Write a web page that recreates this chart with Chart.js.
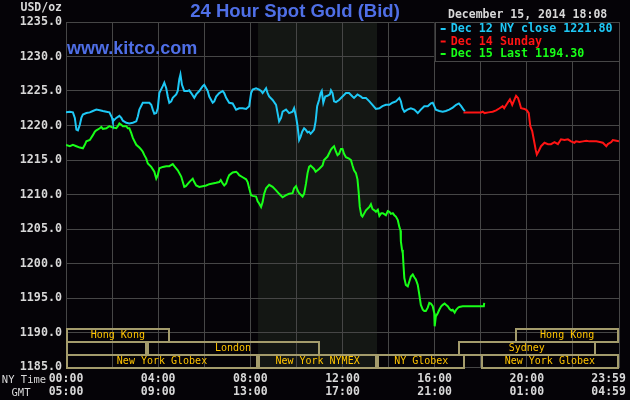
<!DOCTYPE html>
<html>
<head>
<meta charset="utf-8">
<script src="https://cdn.jsdelivr.net/npm/chart.js@4/dist/chart.umd.min.js"></script>
<style>
  html, body { margin: 0; padding: 0; background: #050307; }
  canvas { display: block; }
</style>
</head>
<body>
<canvas id="gold" width="630" height="400"></canvas>
<script>
// minutes after midnight NY time -> bid price
const cyanT = [0,10,18,23,27,31,36,40,44,53,62,70,79,88,96,105,113,120,122,131,139,144,148,157,165,174,183,187,191,200,209,217,222,226,230,235,239,243,252,256,261,265,269,274,278,287,291,295,298,302,308,317,321,326,334,339,347,356,360,365,369,373,382,386,391,399,408,412,417,425,434,443,451,460,469,477,482,486,495,503,508,512,516,521,525,529,538,547,551,555,560,564,573,581,590,594,599,603,607,611,615,620,624,629,633,637,642,646,650,654,659,663,666,670,675,681,687,690,694,698,703,711,720,729,737,746,750,759,768,772,781,790,798,807,816,824,833,842,850,859,868,872,876,881,889,898,907,916,924,933,942,950,955,959,963,972,981,989,998,1007,1016,1023,1029,1035,1039];
const cyanV = [1221.9,1222.0,1221.9,1221.1,1219.4,1219.3,1220.1,1221.1,1221.6,1221.8,1221.9,1222.1,1222.3,1222.2,1222.1,1222.0,1221.9,1221.1,1220.6,1221.1,1221.4,1221.1,1220.7,1220.4,1220.3,1220.4,1220.6,1221.3,1222.3,1223.3,1223.3,1223.3,1223.0,1222.3,1221.7,1221.8,1222.5,1224.7,1225.7,1226.2,1225.4,1224.2,1223.3,1223.5,1224.0,1224.5,1225.0,1226.7,1227.4,1225.9,1225.0,1225.0,1225.1,1224.7,1224.0,1224.5,1225.0,1225.7,1225.9,1225.4,1225.0,1224.2,1223.3,1223.5,1224.2,1224.7,1225.0,1224.7,1224.0,1223.3,1223.2,1222.3,1222.5,1222.5,1222.4,1222.8,1224.7,1225.2,1225.4,1225.2,1225.0,1224.7,1225.0,1225.4,1224.7,1224.2,1223.7,1223.0,1221.8,1220.6,1221.1,1222.0,1222.3,1221.8,1222.0,1222.5,1221.3,1219.9,1217.9,1218.4,1219.1,1219.6,1219.4,1219.0,1219.1,1218.8,1219.1,1219.4,1220.6,1222.8,1223.7,1224.7,1225.0,1223.3,1224.2,1224.3,1224.5,1225.1,1224.7,1223.5,1223.4,1223.7,1224.2,1224.7,1224.7,1224.2,1224.0,1224.5,1224.2,1224.0,1224.0,1223.5,1223.0,1222.4,1222.5,1222.8,1223.0,1223.0,1223.3,1223.5,1224.0,1223.5,1222.5,1222.0,1222.3,1222.5,1222.3,1221.8,1222.3,1222.8,1222.8,1223.2,1223.3,1222.8,1222.3,1222.1,1222.0,1222.1,1222.3,1222.6,1223.0,1223.2,1222.8,1222.3,1222.1];

const redT = [1035,1081,1085,1090,1100,1111,1120,1129,1137,1141,1150,1156,1162,1168,1172,1177,1181,1185,1194,1200,1205,1209,1214,1218,1223,1226,1231,1237,1246,1255,1263,1272,1281,1289,1298,1307,1315,1324,1328,1337,1346,1355,1363,1372,1381,1390,1398,1407,1411,1420,1424,1433,1440];
const redV = [1221.9,1221.9,1222.0,1221.8,1221.9,1222.0,1222.2,1222.5,1222.8,1222.5,1223.3,1223.8,1223.0,1223.8,1224.3,1224.0,1223.3,1222.5,1222.4,1222.2,1221.8,1219.9,1219.2,1218.0,1216.5,1215.8,1216.3,1217.0,1217.5,1217.3,1217.3,1217.6,1217.3,1218.0,1217.9,1218.0,1217.7,1217.5,1217.7,1217.6,1217.7,1217.8,1217.7,1217.7,1217.7,1217.6,1217.5,1217.0,1217.3,1217.6,1217.9,1217.8,1217.7];

const greenT = [0,10,18,27,36,44,49,53,62,70,75,79,88,92,96,105,113,122,131,135,139,144,148,157,161,165,170,174,183,191,196,200,204,209,213,222,230,235,239,243,252,261,269,278,282,291,300,308,312,321,330,334,339,347,356,365,373,382,391,399,403,408,412,417,421,425,434,443,447,451,460,469,473,477,482,486,495,499,503,508,512,516,521,529,538,547,555,564,573,581,590,594,599,603,607,616,620,625,629,633,637,646,650,659,668,672,681,690,694,698,703,707,711,716,720,724,729,737,742,746,750,755,759,762,765,769,772,777,781,790,794,798,803,807,812,816,821,825,833,838,842,846,851,855,859,864,868,871,872,875,877,879,881,885,890,894,898,903,907,911,916,920,924,929,933,937,942,946,950,955,959,960,963,968,972,977,981,986,990,994,999,1003,1007,1012,1016,1021,1024,1033,1088,1089];
const greenV = [1217.2,1217.0,1217.2,1217.0,1216.8,1216.7,1217.2,1217.7,1217.9,1218.6,1219.1,1219.3,1219.6,1219.8,1219.5,1219.6,1219.9,1219.7,1219.6,1219.9,1220.3,1220.1,1219.9,1219.9,1219.6,1219.6,1218.9,1218.2,1217.2,1216.8,1216.5,1216.2,1215.7,1215.2,1214.5,1214.0,1213.3,1212.3,1212.8,1213.8,1214.0,1214.1,1214.1,1214.4,1214.1,1213.5,1212.6,1211.1,1211.2,1211.8,1212.3,1211.8,1211.3,1211.1,1211.2,1211.3,1211.5,1211.6,1211.7,1211.8,1212.1,1211.6,1211.3,1211.6,1212.3,1212.8,1213.2,1213.3,1213.1,1212.8,1212.5,1212.2,1211.8,1210.9,1209.9,1209.8,1209.7,1209.0,1208.7,1208.2,1208.9,1210.1,1210.9,1211.4,1211.1,1210.6,1210.1,1209.6,1209.9,1210.1,1210.2,1210.9,1211.2,1210.6,1210.2,1209.7,1210.1,1211.6,1213.1,1214.0,1214.2,1213.7,1213.3,1213.7,1214.2,1215.0,1215.5,1216.5,1216.8,1217.0,1216.2,1215.7,1215.9,1216.6,1216.6,1215.9,1215.4,1215.2,1215.0,1214.2,1213.5,1213.1,1212.2,1210.4,1208.2,1207.0,1206.8,1207.3,1207.7,1208.2,1208.6,1207.9,1207.7,1207.5,1207.8,1206.9,1207.3,1207.3,1207.0,1207.6,1207.5,1207.2,1207.3,1207.0,1206.8,1206.3,1205.3,1204.8,1203.2,1202.0,1201.5,1199.6,1197.9,1196.9,1196.7,1197.4,1198.1,1198.4,1198.0,1197.7,1196.9,1195.5,1194.0,1193.3,1193.1,1193.1,1193.6,1194.3,1194.2,1193.8,1192.8,1190.9,1192.3,1192.8,1193.3,1193.8,1194.0,1194.2,1194.0,1193.8,1193.4,1193.2,1193.3,1192.9,1193.3,1193.6,1193.7,1193.8,1193.8,1194.3];

// x tick labels, every 4 hours
const nyLabels = ['00:00','04:00','08:00','12:00','16:00','20:00','23:59'];
const gmtLabels = ['05:00','09:00','13:00','17:00','21:00','01:00','04:59'];

// NYMEX pit session (shaded)
const pitSession = [500, 810];

// market session bars at the bottom
const sessName  = ['Hong Kong','Hong Kong','','London','Sydney','New York Globex','New York NYMEX','NY Globex','New York Globex'];
const sessStart = [0, 1170, 0, 210, 1020, 0, 500, 810, 1080];
const sessEnd   = [270, 1440, 210, 660, 1380, 500, 810, 1040, 1440];
const sessRow   = [0, 0, 1, 1, 1, 2, 2, 2, 2];

const legendText = ['Dec 12 NY close 1221.80', 'Dec 14 Sunday', 'Dec 15 Last 1194.30'];
const CYAN = '#1ec8f5', RED = '#ff1414', GREEN = '#18ff18';
const GRID = '#464646';
const MONO = '"DejaVu Sans Mono", "Liberation Mono", monospace';

const pts = (t, v) => t.map((m, i) => ({ x: m, y: v[i] }));

// last label sits inside the canvas, so push it left with trailing spaces
function xLabel(v) {
  if (v % 240 !== 0) return '';
  const i = v / 240;
  const pad = i === nyLabels.length - 1 ? '   ' : '';
  return [nyLabels[i] + pad, gmtLabels[i] + pad];
}

const deco = {
  id: 'deco',
  beforeDraw(c) {
    const ctx = c.ctx, a = c.chartArea, x = c.scales.x;
    ctx.save();
    ctx.fillStyle = '#050307';
    ctx.fillRect(0, 0, c.width, c.height);
    ctx.fillStyle = '#141714';
    const x0 = x.getPixelForValue(pitSession[0]), x1 = x.getPixelForValue(pitSession[1]);
    ctx.fillRect(x0, a.top, x1 - x0, a.bottom - a.top);
    ctx.restore();
  },
  afterDraw(c) {
    const ctx = c.ctx, a = c.chartArea, x = c.scales.x;
    ctx.save();

    // session bars
    const rowH = 13, rowTop = a.bottom - 3 * rowH;
    ctx.lineWidth = 2;
    ctx.strokeStyle = '#a49c6c';
    ctx.font = '10px ' + MONO;
    ctx.textAlign = 'center';
    ctx.textBaseline = 'middle';
    sessName.forEach((n, i) => {
      const l = x.getPixelForValue(sessStart[i]), r = x.getPixelForValue(sessEnd[i]);
      const top = rowTop + sessRow[i] * rowH;
      ctx.strokeRect(Math.round(l) + 1, top + 1, Math.round(r - l) - 2, rowH);
      if (n) {
        ctx.fillStyle = '#ffc400';
        ctx.fillText(n, (l + r) / 2, top + rowH / 2 + 1);
      }
    });

    // legend box
    const lx = x.getPixelForValue(960);
    ctx.fillStyle = '#050307';
    ctx.fillRect(lx, a.top, a.right - lx, 39);
    ctx.lineWidth = 1;
    ctx.strokeStyle = GRID;
    ctx.strokeRect(Math.round(lx) + 0.5, a.top + 0.5, Math.round(a.right - lx), 39);
    ctx.textAlign = 'left';
    ctx.font = 'bold 11.7px ' + MONO;
    [CYAN, RED, GREEN].forEach((col, i) => {
      const y = a.top + 7 + i * 12.5;
      ctx.fillStyle = col;
      ctx.fillRect(lx + 6, y - 1, 5, 2);
      ctx.fillText(legendText[i], lx + 16, y);
    });

    // date stamp
    ctx.fillStyle = '#d8d8d8';
    ctx.font = 'bold 11.5px ' + MONO;
    ctx.fillText('December 15, 2014 18:08', 448, 15);

    // USD/oz and axis row names
    ctx.textAlign = 'right';
    ctx.fillText('USD/oz', 62, 8);
    ctx.font = '10.5px ' + MONO;
    ctx.textAlign = 'center';
    ctx.fillText('NY Time', 24, 380);
    ctx.fillText('GMT', 21, 393);

    // title and site name
    ctx.fillStyle = '#4f6fe6';
    ctx.font = 'bold 18.5px "Liberation Sans", Arial, sans-serif';
    ctx.fillText('24 Hour Spot Gold (Bid)', 295, 12);
    ctx.textAlign = 'left';
    ctx.font = 'bold 18px "Liberation Sans", Arial, sans-serif';
    ctx.fillText('www.kitco.com', 67, 49);
    ctx.restore();
  }
};

new Chart(document.getElementById('gold'), {
  type: 'line',
  data: {
    datasets: [
      { data: pts(cyanT, cyanV), borderColor: CYAN },
      { data: pts(redT, redV), borderColor: RED },
      { data: pts(greenT, greenV), borderColor: GREEN }
    ]
  },
  options: {
    responsive: false,
    animation: false,
    devicePixelRatio: 1,
    layout: { padding: { top: 22, right: 11, left: 0, bottom: 0 } },
    elements: {
      line: { borderWidth: 2, tension: 0 },
      point: { radius: 0 }
    },
    plugins: { legend: { display: false }, tooltip: { enabled: false } },
    scales: {
      x: {
        type: 'linear',
        min: 0, max: 1440,
        afterFit: s => { s.height = 33; s.paddingLeft = 0; s.paddingRight = 0; },
        grid: { color: GRID, drawTicks: false },
        border: { color: GRID },
        ticks: {
          stepSize: 120,
          autoSkip: false,
          maxRotation: 0,
          padding: 5,
          color: '#d8d8d8',
          font: { family: MONO, size: 11.5, weight: 'bold', lineHeight: 1.15 },
          callback: xLabel
        }
      },
      y: {
        min: 1185, max: 1235,
        afterFit: s => { s.width = 66; s.paddingTop = 0; s.paddingBottom = 0; },
        grid: { color: GRID, drawTicks: false },
        border: { color: GRID },
        ticks: {
          stepSize: 5,
          padding: 4,
          color: '#d8d8d8',
          font: { family: MONO, size: 11.7, weight: 'bold' },
          callback: v => v.toFixed(1)
        }
      }
    }
  },
  plugins: [deco]
});
</script>
</body>
</html>
